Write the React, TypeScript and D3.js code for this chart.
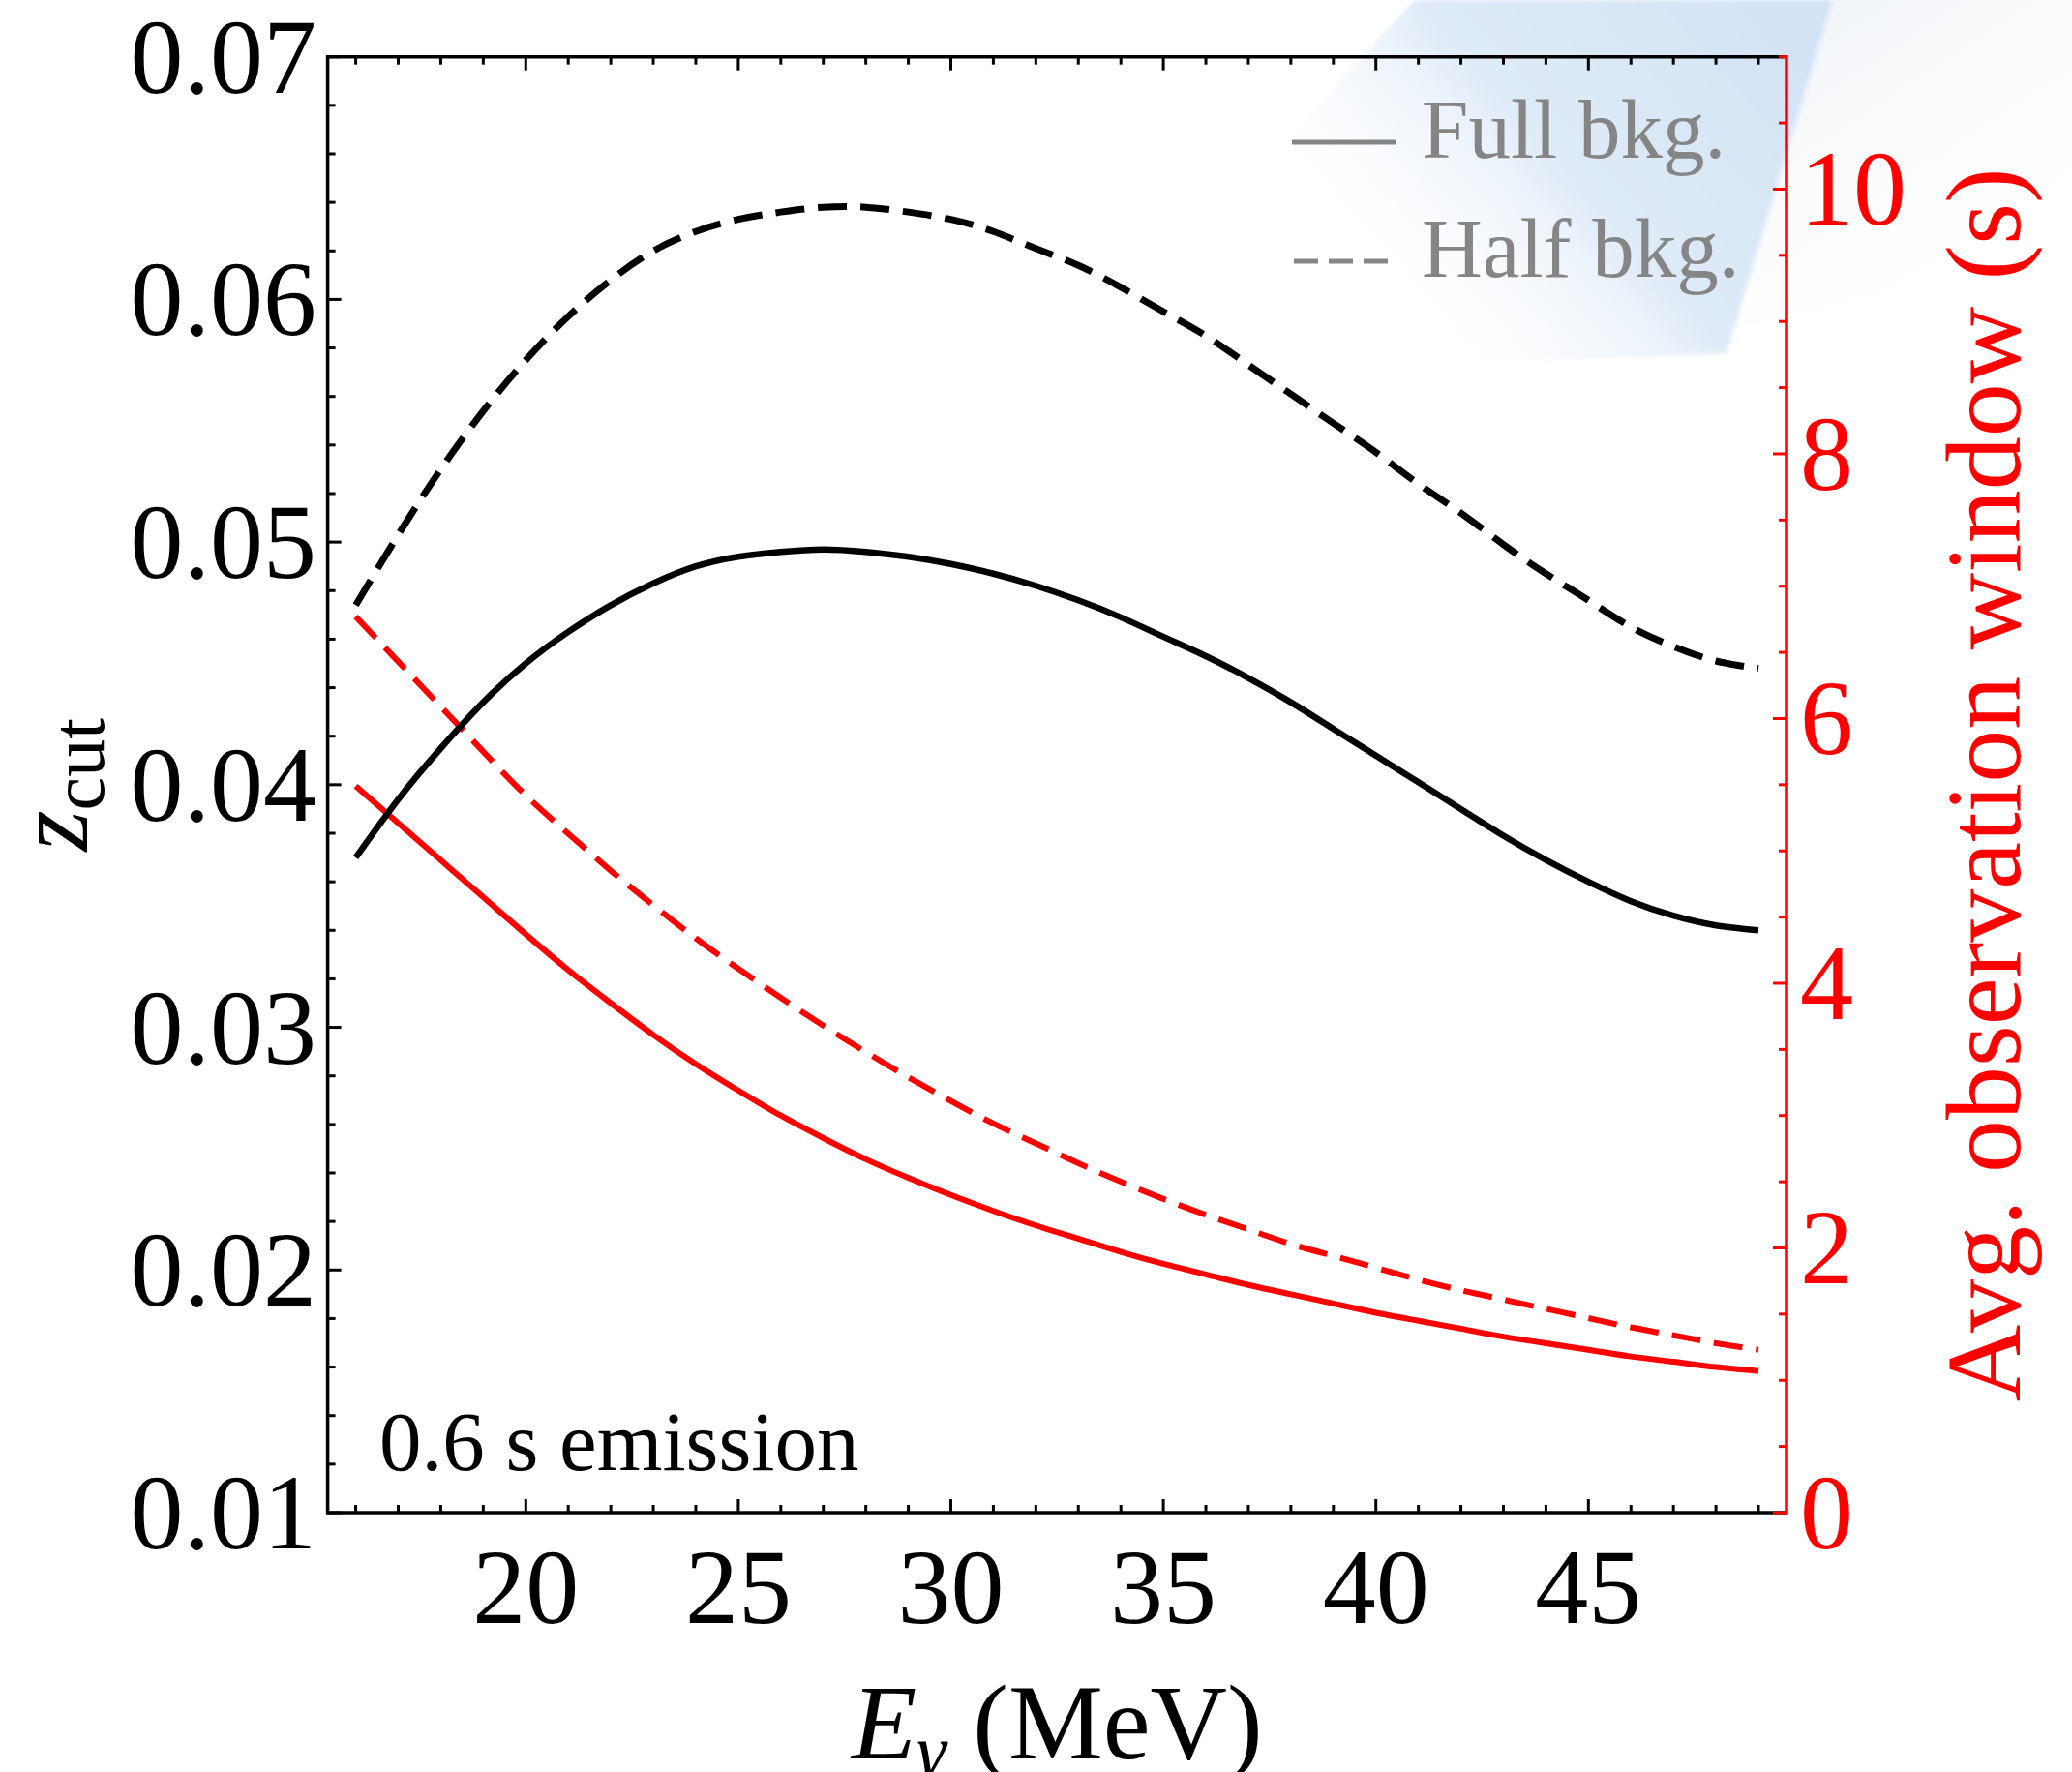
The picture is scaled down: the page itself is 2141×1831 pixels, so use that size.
import React from "react";
import * as d3 from "d3";

// Photon energy grid (MeV)
const energy = [16, 17, 18, 19, 20, 21, 22, 23, 24, 25, 26, 27, 28, 29, 30, 31, 32, 33, 34, 35, 36, 37, 38, 39, 40, 41, 42, 43, 44, 45, 46, 47, 48, 49];

// z_cut, full background (left axis)
const zcutFull = [0.0370, 0.0394, 0.0415, 0.0434, 0.0450, 0.0463, 0.0474, 0.0483, 0.0490, 0.0494, 0.0496, 0.0497, 0.0496, 0.0494, 0.0491, 0.0487, 0.0482, 0.0476, 0.0469, 0.0461, 0.0453, 0.0444, 0.0434, 0.0423, 0.0412, 0.0401, 0.0390, 0.0379, 0.0369, 0.0360, 0.0352, 0.0346, 0.0342, 0.0340];
// z_cut, half background (left axis)
const zcutHalf = [0.0474, 0.0503, 0.0530, 0.0554, 0.0575, 0.0593, 0.0608, 0.0620, 0.0628, 0.0633, 0.0636, 0.0638, 0.0638, 0.0636, 0.0633, 0.0628, 0.0621, 0.0614, 0.0605, 0.0595, 0.0585, 0.0573, 0.0561, 0.0549, 0.0537, 0.0524, 0.0512, 0.0499, 0.0487, 0.0476, 0.0465, 0.0457, 0.0451, 0.0448];
// Average observation window in s, full background (right axis)
const windowFull = [5.49, 5.21, 4.93, 4.65, 4.37, 4.10, 3.85, 3.61, 3.39, 3.19, 3.00, 2.83, 2.67, 2.53, 2.40, 2.28, 2.17, 2.07, 1.97, 1.88, 1.80, 1.72, 1.65, 1.58, 1.51, 1.45, 1.39, 1.33, 1.28, 1.23, 1.18, 1.14, 1.10, 1.07];
// Average observation window in s, half background (right axis)
const windowHalf = [6.77, 6.43, 6.09, 5.75, 5.42, 5.13, 4.85, 4.59, 4.34, 4.11, 3.89, 3.68, 3.48, 3.29, 3.11, 2.94, 2.79, 2.64, 2.50, 2.37, 2.25, 2.14, 2.03, 1.94, 1.85, 1.76, 1.68, 1.61, 1.54, 1.47, 1.40, 1.34, 1.28, 1.23];

const xTickLabels = [20, 25, 30, 35, 40, 45];
const zcutTickLabels = ["0.01", "0.02", "0.03", "0.04", "0.05", "0.06", "0.07"];
const windowTickLabels = [0, 2, 4, 6, 8, 10];

const W = 2141;
const H = 1831;
const L = 338.6;
const R = 1846;
const T = 58.7;
const B = 1563;
const FONT = "'Liberation Serif', 'Times New Roman', Times, serif";
const RED = "#ff0000";
const GRAY = "#858585";

export default function App() {
  const x = d3.scaleLinear().domain([15.34, 49.66]).range([L, R]);
  const yL = d3.scaleLinear().domain([0.01, 0.07]).range([B, T]);
  const yR = d3.scaleLinear().domain([0, 11]).range([B, T]);

  const lineL = d3
    .line<number>()
    .x((_, i) => x(energy[i]))
    .y((d) => yL(d))
    .curve(d3.curveNatural);
  const lineR = d3
    .line<number>()
    .x((_, i) => x(energy[i]))
    .y((d) => yR(d))
    .curve(d3.curveNatural);

  const xMinor = d3.range(16, 50);
  const leftMinor = d3.range(0, 31).map((i) => 0.01 + i * 0.002);
  const rightMinor = d3.range(0, 23).map((i) => i * 0.5);

  const majorLen = 14;
  const minorLen = 8;
  const tickW = 3;

  return (
    <svg
      width={W}
      height={H}
      viewBox={`0 0 ${W} ${H}`}
      style={{ position: "absolute", left: 0, top: 0, background: "#ffffff" }}
      fontFamily={FONT}
    >
      <defs>
        <linearGradient id="haze" gradientUnits="userSpaceOnUse" x1={1840} y1={40} x2={1470} y2={370}>
          <stop offset="0" stopColor="rgb(212,227,244)" stopOpacity={1} />
          <stop offset="0.5" stopColor="rgb(220,233,247)" stopOpacity={0.95} />
          <stop offset="1" stopColor="rgb(255,255,255)" stopOpacity={0} />
        </linearGradient>
        <linearGradient id="haze2" gradientUnits="userSpaceOnUse" x1={1900} y1={0} x2={2100} y2={300}>
          <stop offset="0" stopColor="rgb(238,242,247)" stopOpacity={0.8} />
          <stop offset="1" stopColor="rgb(255,255,255)" stopOpacity={0} />
        </linearGradient>
        <filter id="soft" x="-10%" y="-10%" width="120%" height="120%">
          <feGaussianBlur stdDeviation="2" />
        </filter>
      </defs>

      {/* light background wash behind the legend */}
      <polygon points="1894,0 2141,0 2141,260 1790,340" fill="url(#haze2)" />
      <polygon
        points="1462,0 1894,0 1784,365 1560,375 1120,370"
        fill="url(#haze)"
        filter="url(#soft)"
      />

      {/* curves */}
      <path d={lineR(windowFull) || ""} fill="none" stroke={RED} strokeWidth={6} />
      <path d={lineR(windowHalf) || ""} fill="none" stroke={RED} strokeWidth={6} strokeDasharray="30 14" />
      <path d={lineL(zcutFull) || ""} fill="none" stroke="#000" strokeWidth={6.5} />
      <path d={lineL(zcutHalf) || ""} fill="none" stroke="#000" strokeWidth={7} strokeDasharray="30 14" />

      {/* bottom and top ticks */}
      {xMinor.map((v) => {
        const len = v % 5 === 0 ? majorLen : minorLen;
        return (
          <g key={`xt${v}`} stroke="#000" strokeWidth={tickW}>
            <line x1={x(v)} x2={x(v)} y1={B} y2={B - len} />
            <line x1={x(v)} x2={x(v)} y1={T} y2={T + len} />
          </g>
        );
      })}
      {/* left ticks */}
      {leftMinor.map((v, i) => {
        const len = i % 5 === 0 ? majorLen : minorLen;
        return <line key={`lt${i}`} x1={L} x2={L + len} y1={yL(v)} y2={yL(v)} stroke="#000" strokeWidth={tickW} />;
      })}

      {/* black frame */}
      <path d={`M${R},${T}H${L}V${B}H${R}`} fill="none" stroke="#000" strokeWidth={3.5} />

      {/* right axis in red */}
      <line x1={R} x2={R} y1={T - 1.75} y2={B + 1.75} stroke={RED} strokeWidth={3.5} />
      {rightMinor.map((v, i) => {
        const len = i % 4 === 0 ? majorLen : minorLen;
        return <line key={`rt${i}`} x1={R} x2={R - len} y1={yR(v)} y2={yR(v)} stroke={RED} strokeWidth={tickW} />;
      })}

      {/* tick labels */}
      {xTickLabels.map((v) => (
        <text key={`xl${v}`} x={x(v)} y={1677} fontSize={110} textAnchor="middle" fill="#000">
          {v}
        </text>
      ))}
      {zcutTickLabels.map((s) => (
        <text key={`ll${s}`} x={327} y={yL(+s) + 37} fontSize={110} textAnchor="end" fill="#000">
          {s}
        </text>
      ))}
      {windowTickLabels.map((v) => (
        <text key={`rl${v}`} x={1860} y={yR(v) + 37} fontSize={110} textAnchor="start" fill={RED}>
          {v}
        </text>
      ))}

      {/* axis titles */}
      <text x={(L + R) / 2} y={1817} fontSize={110} textAnchor="middle" fill="#000">
        <tspan fontStyle="italic">E</tspan>
        <tspan fontStyle="italic" fontSize={78} dy={18}>γ</tspan>
        <tspan dy={-18}> (MeV)</tspan>
      </text>
      <text transform={`translate(90, ${(T + B) / 2}) rotate(-90)`} fontSize={108} textAnchor="middle" fill="#000">
        <tspan fontStyle="italic">z</tspan>
        <tspan fontSize={78} dy={17}>cut</tspan>
      </text>
      <text transform={`translate(2087, ${(T + B) / 2}) rotate(-90)`} fontSize={110} textAnchor="middle" fill={RED}>
        Avg. observation window (s)
      </text>

      {/* legend */}
      <line x1={1335} x2={1442} y1={147} y2={147} stroke={GRAY} strokeWidth={5} />
      <text x={1469} y={163} fontSize={87} fill={GRAY}>Full bkg.</text>
      <line x1={1337} x2={1434} y1={270} y2={270} stroke={GRAY} strokeWidth={5} strokeDasharray="25 11" />
      <text x={1469} y={286} fontSize={87} fill={GRAY}>Half bkg.</text>

      {/* annotation */}
      <text x={392} y={1519} fontSize={87} fill="#000">0.6 s emission</text>
    </svg>
  );
}
